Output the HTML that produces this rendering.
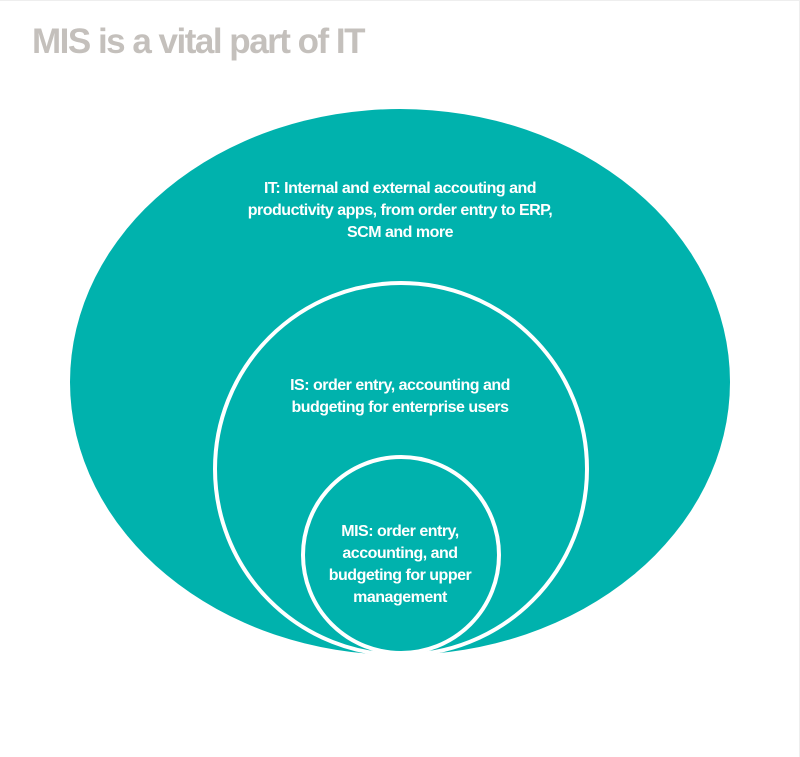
<!DOCTYPE html>
<html><head><style>
html,body{margin:0;padding:0;background:#fff;}
body{width:800px;height:757px;overflow:hidden;position:relative;font-family:"Liberation Sans",Arial,sans-serif;}
.t{position:absolute;left:32px;top:22px;font-size:35px;font-weight:bold;color:#c4c0bc;letter-spacing:-1.5px;}
</style></head><body>
<div style="position:absolute;left:0;top:0;width:800px;height:1px;background:#eee"></div>
<div style="position:absolute;right:0;top:0;width:1px;height:757px;background:#eee"></div>
<div class="t">MIS is a vital part of IT</div>
<svg width="800" height="757" style="position:absolute;left:0;top:0">
<ellipse cx="400" cy="382" rx="330" ry="273" fill="#00b2ad"/>
<circle cx="401" cy="469" r="186" fill="#00b2ad" stroke="#fff" stroke-width="4"/>
<circle cx="401" cy="555" r="98" fill="#00b2ad" stroke="#fff" stroke-width="4"/>
<g fill="#fff" font-family="Liberation Sans, Arial, sans-serif" font-size="16" font-weight="bold" text-anchor="middle" letter-spacing="-0.5">
<text x="400" y="193">IT: Internal and external accouting and</text>
<text x="400" y="215">productivity apps, from order entry to ERP,</text>
<text x="400" y="237">SCM and more</text>
<text x="400" y="390">IS: order entry, accounting and</text>
<text x="400" y="412">budgeting for enterprise users</text>
<text x="400" y="536">MIS: order entry,</text>
<text x="400" y="558">accounting, and</text>
<text x="400" y="580">budgeting for upper</text>
<text x="400" y="602">management</text>
</g>
</svg>
</body></html>
